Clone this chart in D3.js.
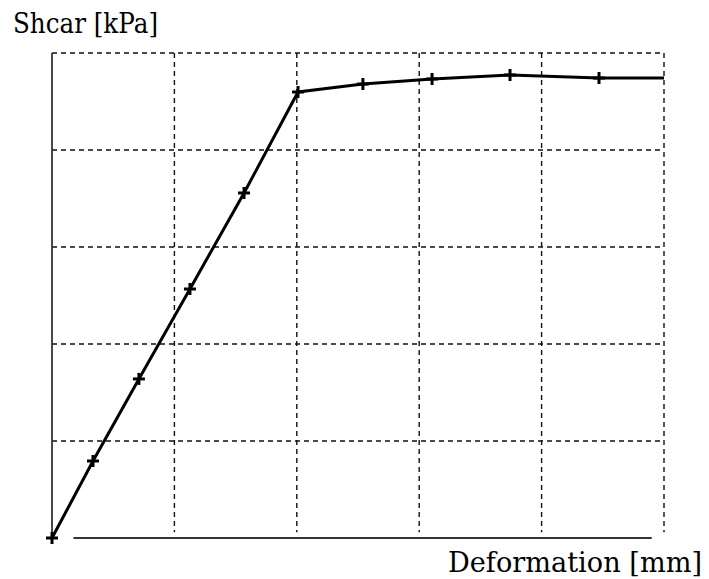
<!DOCTYPE html>
<html>
<head>
<meta charset="utf-8">
<script src="https://cdn.jsdelivr.net/npm/d3@7"></script>
<style>
  body { margin: 0; background: #fff; }
  svg { display: block; }
  .title { font-family: "DejaVu Serif", serif; }
</style>
</head>
<body>
<div id="chart"></div>
<script>
// deformation values (grid units) and shear values
var deformation = [0, 0.335, 0.71, 1.127, 1.569, 2.01, 2.54, 3.105, 3.742, 4.469, 5.0];
var shear = [0, 0.794, 1.64, 2.567, 3.557, 4.598, 4.68, 4.732, 4.773, 4.742, 4.742];
// last point is only the end of the line, it has no marker
var hasMarker = [true, true, true, true, true, true, true, true, true, true, false];
var gridTicks = [0, 1, 2, 3, 4, 5];

var width = 709, height = 579;

var svg = d3.select("#chart").append("svg")
	.attr("width", width)
	.attr("height", height);

var x = d3.scaleLinear().domain([0, 5]).range([52, 664]);
var y = d3.scaleLinear().domain([0, 5]).range([538, 53]);

//dashed grid
svg.selectAll("line.vgrid").data(gridTicks.slice(1)).enter().append("line")
	.attr("class", "vgrid")
	.attr("x1", function (d) { return x(d); })
	.attr("x2", function (d) { return x(d); })
	.attr("y1", y(5))
	.attr("y2", y(0.06))
	.attr("stroke", "#111")
	.attr("stroke-width", 1.4)
	.attr("stroke-dasharray", "5,4");

svg.selectAll("line.hgrid").data(gridTicks.slice(1)).enter().append("line")
	.attr("class", "hgrid")
	.attr("x1", x(0))
	.attr("x2", x(5))
	.attr("y1", function (d) { return y(d); })
	.attr("y2", function (d) { return y(d); })
	.attr("stroke", "#111")
	.attr("stroke-width", 1.4)
	.attr("stroke-dasharray", "5,4");

//solid axes
svg.append("line")
	.attr("x1", x(0)).attr("x2", x(0))
	.attr("y1", y(5)).attr("y2", y(0))
	.attr("stroke", "#333")
	.attr("stroke-width", 1.8);

svg.append("line")
	.attr("x1", x(0.175)).attr("x2", x(4.9))
	.attr("y1", y(0)).attr("y2", y(0))
	.attr("stroke", "#333")
	.attr("stroke-width", 1.8);

//curve
var points = deformation.map(function (d, i) {
	return { x: d, y: shear[i], marker: hasMarker[i] };
});

var line = d3.line()
	.x(function (d) { return x(d.x); })
	.y(function (d) { return y(d.y); });

svg.append("path")
	.datum(points)
	.attr("d", line)
	.attr("fill", "none")
	.attr("stroke", "#000")
	.attr("stroke-width", 3);

//plus markers
var marks = svg.selectAll("g.mark").data(points.filter(function (d) { return d.marker; }))
	.enter().append("g")
	.attr("class", "mark")
	.attr("transform", function (d) { return "translate(" + x(d.x) + "," + y(d.y) + ")"; });

marks.append("line")
	.attr("x1", -6).attr("x2", 6).attr("y1", 0).attr("y2", 0)
	.attr("stroke", "#000").attr("stroke-width", 3);
marks.append("line")
	.attr("x1", 0).attr("x2", 0).attr("y1", -6).attr("y2", 6)
	.attr("stroke", "#000").attr("stroke-width", 3);

//axis titles
svg.append("text")
	.attr("class", "title")
	.attr("x", 13)
	.attr("y", 33)
	.attr("font-size", 28)
	.attr("textLength", 145)
	.attr("lengthAdjust", "spacingAndGlyphs")
	.attr("fill", "#000")
	.text("Shcar [kPa]");

svg.append("text")
	.attr("class", "title")
	.attr("x", 448)
	.attr("y", 572)
	.attr("font-size", 28)
	.attr("textLength", 254)
	.attr("lengthAdjust", "spacingAndGlyphs")
	.attr("fill", "#000")
	.text("Deformation [mm]");
</script>
</body>
</html>
